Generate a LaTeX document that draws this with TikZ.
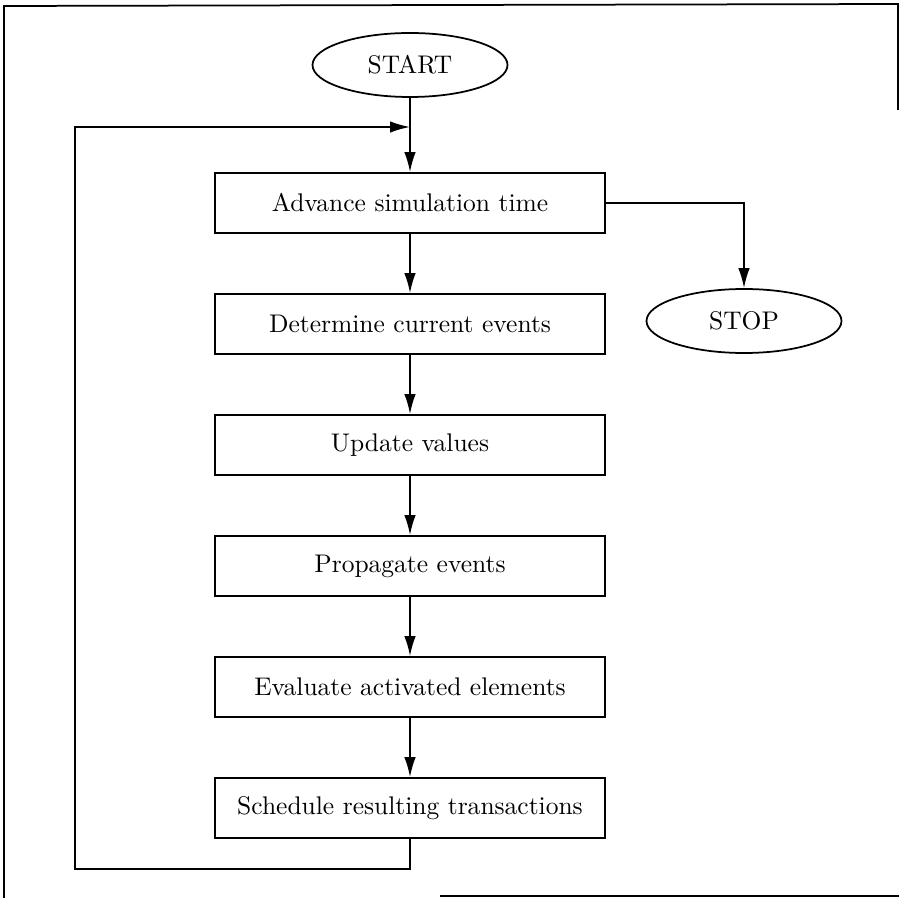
\documentclass[tikz,border=0pt]{standalone}
\usetikzlibrary{arrows.meta,shapes.geometric}
\begin{document}
\begin{tikzpicture}[x=0.4pt,y=-0.4pt,
  line width=0.7pt,
  stepbox/.style={draw,rectangle,minimum width=156pt,minimum height=24pt,inner sep=0pt,font=\fontsize{10.2}{12}\selectfont},
  term/.style={draw,ellipse,minimum width=78pt,minimum height=25.6pt,inner sep=0pt,font=\fontsize{10.2}{12}\selectfont},
  arr/.style={-{Latex[length=8pt,width=4.6pt]}}]
\useasboundingbox (0,0) rectangle (899,898);
% partial frame (scanned page border)
\draw (4,898) -- (4,6) -- (898,4) -- (898,110);
\draw (440,896) -- (899,896);
% nodes
\node[term] (start) at (410,65) {START};
\node[stepbox] (adv) at (410,203) {Advance simulation time};
\node[term] (stop) at (744,321) {STOP};
\node[stepbox] (det) at (410,324) {Determine current events};
\node[stepbox] (upd) at (410,445) {Update values};
\node[stepbox] (prop) at (410,566) {Propagate events};
\node[stepbox] (eval) at (410,687) {Evaluate activated elements};
\node[stepbox] (sched) at (410,808) {Schedule resulting transactions};
\coordinate (merge) at (410,127);
\coordinate (lb) at (75,869);
% connectors
\draw[arr] (start) -- (adv);
\draw[arr] (adv) -- (det);
\draw[arr] (det) -- (upd);
\draw[arr] (upd) -- (prop);
\draw[arr] (prop) -- (eval);
\draw[arr] (eval) -- (sched);
\draw[arr] (adv.east) -| (stop.north);
\draw[arr] (sched.south) |- (lb) |- (merge);
\end{tikzpicture}
\end{document}
